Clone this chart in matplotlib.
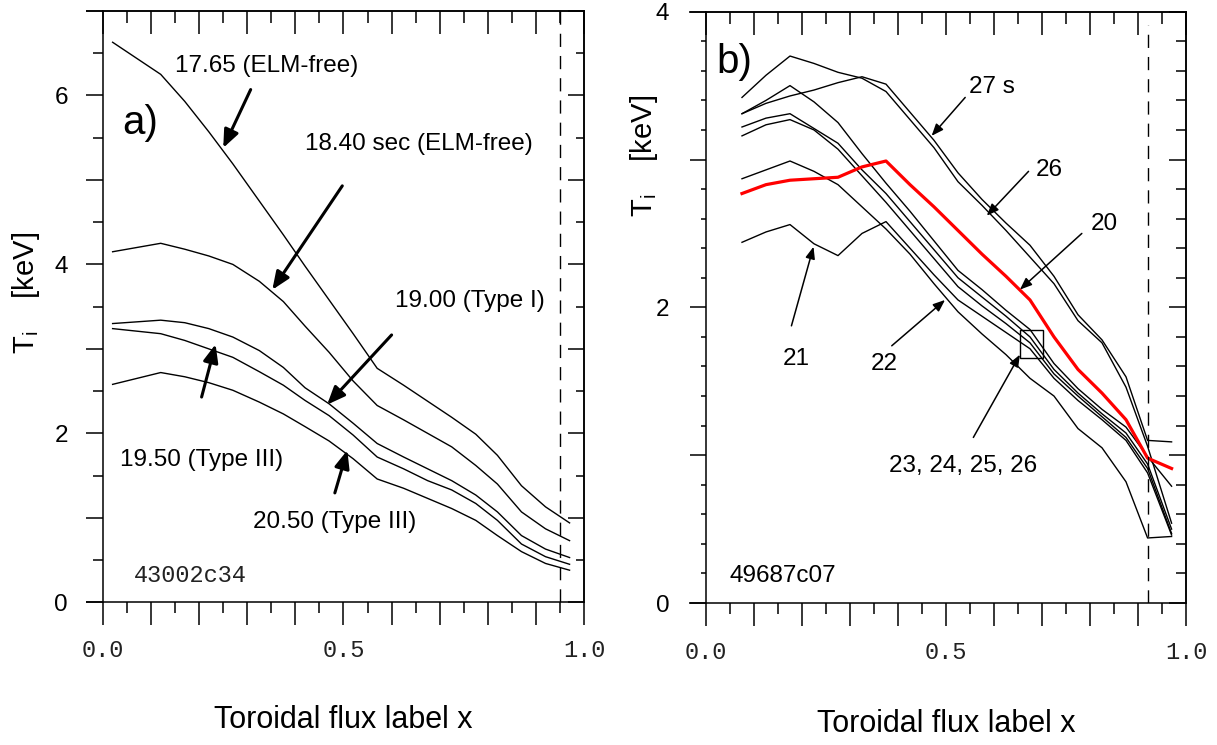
import matplotlib
matplotlib.use('Agg')
import matplotlib.pyplot as plt
from matplotlib.ticker import MultipleLocator, FuncFormatter, NullFormatter
from matplotlib.patches import Rectangle

# ---------------- data: panel a) (shot 43002c34) ----------------
x_a = [0.02, 0.12, 0.17, 0.22, 0.27, 0.325, 0.375, 0.42, 0.47, 0.52,
       0.57, 0.625, 0.675, 0.725, 0.775, 0.82, 0.87, 0.92, 0.97]
ti_1765 = [6.63, 6.25, 5.93, 5.57, 5.19, 4.75, 4.35, 3.98, 3.58, 3.18,
           2.77, 2.57, 2.38, 2.19, 1.99, 1.74, 1.38, 1.13, 0.94]
ti_1840 = [4.15, 4.25, 4.18, 4.10, 4.00, 3.80, 3.56, 3.27, 2.96, 2.62,
           2.33, 2.16, 2.00, 1.84, 1.62, 1.40, 1.07, 0.87, 0.73]
ti_1900 = [3.30, 3.34, 3.31, 3.24, 3.14, 2.98, 2.78, 2.54, 2.35, 2.12,
           1.88, 1.72, 1.58, 1.44, 1.27, 1.07, 0.79, 0.63, 0.53]
ti_1950 = [3.24, 3.18, 3.10, 3.00, 2.90, 2.73, 2.57, 2.39, 2.21, 1.98,
           1.72, 1.58, 1.44, 1.33, 1.17, 0.97, 0.69, 0.54, 0.45]
ti_2050 = [2.58, 2.72, 2.67, 2.60, 2.51, 2.37, 2.23, 2.08, 1.91, 1.70,
           1.46, 1.35, 1.23, 1.11, 0.97, 0.79, 0.60, 0.46, 0.38]
labels_a = ['17.65 (ELM-free)', '18.40 sec (ELM-free)', '19.00 (Type I)',
            '19.50 (Type III)', '20.50 (Type III)']

# ---------------- data: panel b) (shot 49687c07) ----------------
x_b = [0.075, 0.125, 0.175, 0.225, 0.275, 0.325, 0.375, 0.425, 0.475, 0.525,
       0.575, 0.625, 0.675, 0.725, 0.775, 0.825, 0.875, 0.92, 0.97]
ti_27 = [3.31, 3.38, 3.43, 3.47, 3.52, 3.56, 3.51, 3.32, 3.13, 2.91,
         2.73, 2.57, 2.42, 2.21, 1.95, 1.78, 1.53, 1.10, 1.09]
ti_26a = [3.42, 3.57, 3.70, 3.65, 3.59, 3.55, 3.46, 3.27, 3.08, 2.85,
          2.69, 2.52, 2.34, 2.16, 1.91, 1.76, 1.46, 1.06, 0.54]
ti_23 = [3.31, 3.40, 3.50, 3.39, 3.25, 3.04, 2.84, 2.65, 2.45, 2.25,
         2.12, 1.98, 1.85, 1.62, 1.45, 1.31, 1.19, 0.99, 0.79]
ti_24 = [3.22, 3.28, 3.31, 3.21, 3.11, 2.93, 2.77, 2.58, 2.39, 2.20,
         2.07, 1.94, 1.80, 1.58, 1.42, 1.28, 1.15, 0.94, 0.50]
ti_25 = [3.16, 3.235, 3.27, 3.20, 3.07, 2.89, 2.71, 2.52, 2.33, 2.14,
         2.01, 1.89, 1.76, 1.55, 1.40, 1.26, 1.12, 0.91, 0.47]
ti_21 = [2.44, 2.51, 2.56, 2.43, 2.35, 2.50, 2.58, 2.40, 2.22, 2.05,
         1.94, 1.83, 1.72, 1.52, 1.37, 1.24, 1.10, 0.88, 0.46]
ti_22 = [2.87, 2.93, 2.99, 2.92, 2.83, 2.68, 2.53, 2.36, 2.16, 1.97,
         1.82, 1.68, 1.52, 1.40, 1.18, 1.05, 0.82, 0.44, 0.45]
ti_20 = [2.77, 2.83, 2.86, 2.87, 2.88, 2.95, 2.99, 2.83, 2.68, 2.52,
         2.36, 2.21, 2.05, 1.80, 1.58, 1.42, 1.24, 0.98, 0.91]
labels_b = ['27 s', '26', '20', '21', '22', '23, 24, 25, 26']

# ---------------- style ----------------
plt.rcParams['font.family'] = ['Liberation Sans', 'DejaVu Sans']
plt.rcParams['mathtext.default'] = 'regular'
LW_SP = 1.1
MONO = 'Liberation Mono'

fig = plt.figure(figsize=(12.17, 7.45), dpi=100)
axA = fig.add_axes([0.08463, 0.19154, 0.39524, 0.79369])
axB = fig.add_axes([0.58011, 0.19060, 0.39441, 0.79370])


def xfmt(v, p):
    return f'{v:.1f}' if abs(v * 2 - round(v * 2)) < 1e-6 else ''


def yfmt(v, p):
    r = round(v)
    return str(int(r)) if abs(v - r) < 1e-6 and r % 2 == 0 else ''


def style(ax, ymax, yminor, lmaj, lmin, rmaj, rmin, ypad, xpad):
    ax.set_xlim(0, 1)
    ax.set_ylim(0, ymax)
    for s in ax.spines.values():
        s.set_linewidth(LW_SP)
    ax.xaxis.set_major_locator(MultipleLocator(0.1))
    ax.xaxis.set_minor_locator(MultipleLocator(0.05))
    ax.xaxis.set_major_formatter(FuncFormatter(xfmt))
    ax.yaxis.set_major_locator(MultipleLocator(1))
    ax.yaxis.set_minor_locator(MultipleLocator(yminor))
    ax.yaxis.set_major_formatter(FuncFormatter(yfmt))
    ax.tick_params(axis='x', which='major', direction='out', length=16.6,
                   width=LW_SP, pad=xpad, labelsize=17,
                   labelfontfamily=MONO, labelcolor='#222222')
    ax.tick_params(axis='x', which='minor', direction='out', length=8.2,
                   width=LW_SP)
    ax.tick_params(axis='y', which='major', direction='out', length=lmaj,
                   width=LW_SP, pad=ypad, labelsize=17.5)
    ax.tick_params(axis='y', which='minor', direction='out', length=lmin,
                   width=LW_SP)
    top = ax.secondary_xaxis('top')
    top.xaxis.set_major_locator(MultipleLocator(0.1))
    top.xaxis.set_minor_locator(MultipleLocator(0.05))
    top.xaxis.set_major_formatter(NullFormatter())
    top.tick_params(axis='x', which='major', direction='in', length=16.6,
                    width=LW_SP)
    top.tick_params(axis='x', which='minor', direction='in', length=8.4,
                    width=LW_SP)
    top.spines['top'].set_linewidth(LW_SP)
    rgt = ax.secondary_yaxis('right')
    rgt.yaxis.set_major_locator(MultipleLocator(1))
    rgt.yaxis.set_minor_locator(MultipleLocator(yminor))
    rgt.yaxis.set_major_formatter(NullFormatter())
    rgt.tick_params(axis='y', which='major', direction='in', length=rmaj,
                    width=LW_SP)
    rgt.tick_params(axis='y', which='minor', direction='in', length=rmin,
                    width=LW_SP)
    rgt.spines['right'].set_linewidth(LW_SP)
    # horizontal frame lines extend a little to the left of the y axis
    for yy in (0, 1):
        ax.plot([-0.035, 0], [yy, yy], transform=ax.transAxes, color='k',
                lw=LW_SP, clip_on=False, solid_capstyle='butt')


style(axA, 7, 0.5, 12.2, 7.2, 11.3, 5.8, 13, 9.5)
style(axB, 4, 0.2, 11.3, 3.6, 12.2, 7.2, 15, 11)

DASH = (0, (9.5, 6.5))

# ---------------- panel a ----------------
for ys in (ti_1765, ti_1840, ti_1900, ti_1950, ti_2050):
    axA.plot(x_a, ys, color='k', lw=1.0)
axA.axvline(0.95, color='k', lw=1.0, ls=DASH)

pos_a = [(0.340, 6.35), (0.656, 5.42), (0.763, 3.57), (0.204, 1.68), (0.482, 0.95)]
arr_a = [((0.307, 6.07), (0.250, 5.38)),
         ((0.4975, 4.93), (0.352, 3.70)),
         ((0.600, 3.165), (0.466, 2.34)),
         ((0.205, 2.43), (0.234, 3.055)),
         ((0.482, 1.295), (0.508, 1.80))]
for lab, (px, py) in zip(labels_a, pos_a):
    axA.text(px, py, lab, fontsize=17.5, ha='center', va='center')
for tail, tip in arr_a:
    axA.annotate('', xy=tip, xytext=tail,
                 arrowprops=dict(arrowstyle='-|>,head_length=0.6,head_width=0.25',
                                 lw=2.2, color='k', mutation_scale=18,
                                 shrinkA=0, shrinkB=0))
axA.text(0.077, 5.67, 'a)', fontsize=29, ha='center', va='center')
axA.text(0.181, 0.32, '43002c34', fontsize=17, family=MONO,
         color='#222222', ha='center', va='center')

# ---------------- panel b ----------------
for ys in (ti_27, ti_26a, ti_23, ti_24, ti_25, ti_21, ti_22):
    axB.plot(x_b, ys, color='k', lw=1.0)
axB.plot(x_b, ti_20, color='#ff0000', lw=2.3)
axB.plot([0.92, 0.92], [0, 3.91], color='k', lw=1.0, ls=DASH)
axB.add_patch(Rectangle((0.654, 1.66), 0.049, 0.19, fill=False,
                        lw=1.0, ec='k'))

pos_b = [(0.595, 3.49), (0.716, 2.93), (0.829, 2.565), (0.187, 1.65),
         (0.371, 1.62), (0.536, 0.93)]
arr_b = [((0.540, 3.42), (0.470, 3.16)),
         ((0.672, 2.92), (0.585, 2.62)),
         ((0.783, 2.50), (0.654, 2.12)),
         ((0.178, 1.875), (0.224, 2.41)),
         ((0.387, 1.74), (0.498, 2.05)),
         ((0.557, 1.12), (0.654, 1.68))]
for lab, (px, py) in zip(labels_b, pos_b):
    axB.text(px, py, lab, fontsize=17.5, ha='center', va='center')
for tail, tip in arr_b:
    axB.annotate('', xy=tip, xytext=tail,
                 arrowprops=dict(arrowstyle='-|>,head_length=0.55,head_width=0.22',
                                 lw=1.1, color='k', mutation_scale=13,
                                 shrinkA=0, shrinkB=0))
axB.text(0.058, 3.66, 'b)', fontsize=29, ha='center', va='center')
axB.text(0.160, 0.183, '49687c07', fontsize=17.5, ha='center', va='center')

# ---------------- axis titles ----------------
fig.text(0.2822, 0.0336, 'Toroidal flux label x', fontsize=22,
         ha='center', va='center')
fig.text(0.7773, 0.0282, 'Toroidal flux label x', fontsize=22,
         ha='center', va='center')
fig.text(0.0214, 0.6074, 'T$_i$    [keV]', fontsize=21, rotation=90,
         ha='center', va='center')
fig.text(0.5292, 0.7913, 'T$_i$    [keV]', fontsize=21, rotation=90,
         ha='center', va='center')

fig.savefig('out.png', dpi=100)
